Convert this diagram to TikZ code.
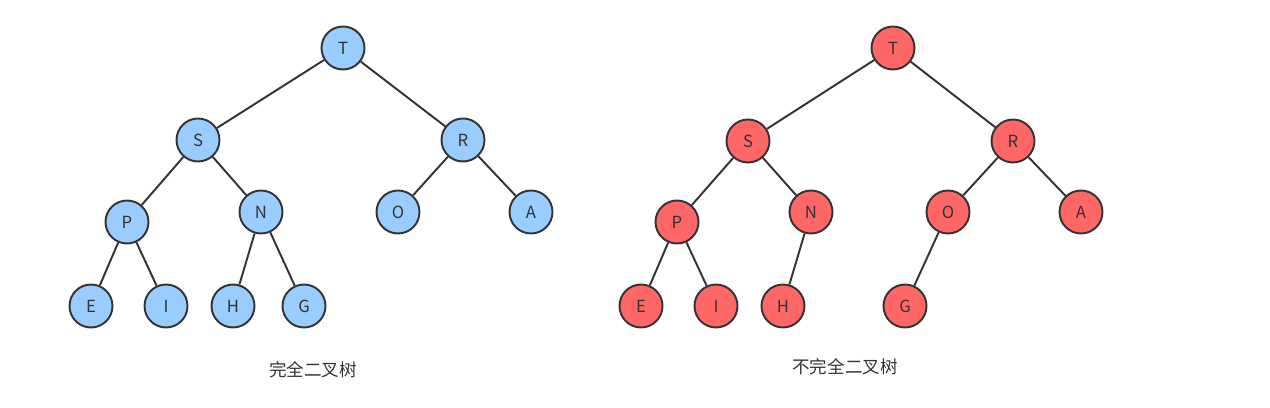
\documentclass[tikz,border=0pt]{standalone}
\usepackage{fontspec}
\setmainfont{Noto Sans CJK SC}
\usepackage{tikz}
\definecolor{nodeblue}{RGB}{153,204,255}
\definecolor{nodered}{RGB}{255,102,102}
\definecolor{edgegray}{RGB}{51,51,51}

\begin{document}
\begin{tikzpicture}[x=0.02cm, y=-0.02cm,
    bnode/.style={circle, draw=edgegray, line width=1.1pt, fill=nodeblue, minimum size=0.86cm, inner sep=0pt, font=\fontsize{9.5}{11}\selectfont, text=edgegray},
    rnode/.style={bnode, fill=nodered},
    edge/.style={draw=edgegray, line width=1.1pt}]
            \useasboundingbox (0,0) rectangle (1270,408);
            % complete binary tree
            \node[bnode] (lT) at (343,48) {T};
            \node[bnode] (lS) at (198,140) {S};
            \node[bnode] (lR) at (463,140) {R};
            \node[bnode] (lP) at (127,222) {P};
            \node[bnode] (lN) at (261,212) {N};
            \node[bnode] (lO) at (398,212) {O};
            \node[bnode] (lA) at (531,212) {A};
            \node[bnode] (lE) at (91,306) {E};
            \node[bnode] (lI) at (166,306) {I};
            \node[bnode] (lH) at (233,306) {H};
            \node[bnode] (lG) at (304,306) {G};
            \draw[edge] (lT) -- (lS);
            \draw[edge] (lT) -- (lR);
            \draw[edge] (lS) -- (lP);
            \draw[edge] (lS) -- (lN);
            \draw[edge] (lR) -- (lO);
            \draw[edge] (lR) -- (lA);
            \draw[edge] (lP) -- (lE);
            \draw[edge] (lP) -- (lI);
            \draw[edge] (lN) -- (lH);
            \draw[edge] (lN) -- (lG);
            \node[font=\fontsize{10}{12}\selectfont, text=edgegray] (lcap) at (313,370) {完全二叉树};
            % not complete binary tree
            \node[rnode] (rT) at (893,48) {T};
            \node[rnode] (rS) at (748,141) {S};
            \node[rnode] (rR) at (1013,141) {R};
            \node[rnode] (rP) at (677,222) {P};
            \node[rnode] (rN) at (811,212) {N};
            \node[rnode] (rO) at (948,212) {O};
            \node[rnode] (rA) at (1081,212) {A};
            \node[rnode] (rE) at (641,306) {E};
            \node[rnode] (rI) at (716,306) {I};
            \node[rnode] (rH) at (783,306) {H};
            \node[rnode] (rG) at (905,306) {G};
            \draw[edge] (rT) -- (rS);
            \draw[edge] (rT) -- (rR);
            \draw[edge] (rS) -- (rP);
            \draw[edge] (rS) -- (rN);
            \draw[edge] (rR) -- (rO);
            \draw[edge] (rR) -- (rA);
            \draw[edge] (rP) -- (rE);
            \draw[edge] (rP) -- (rI);
            \draw[edge] (rN) -- (rH);
            \draw[edge] (rO) -- (rG);
            \node[font=\fontsize{10}{12}\selectfont, text=edgegray] (rcap) at (845,367) {不完全二叉树};
        \end{tikzpicture}
\end{document}
